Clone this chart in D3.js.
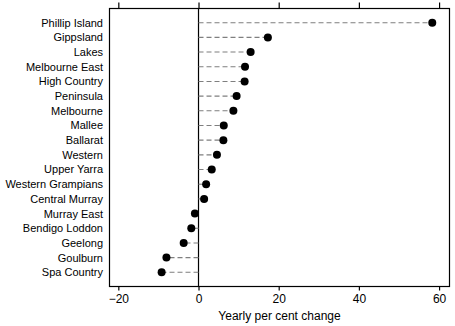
<!DOCTYPE html>
<html>
<head>
<meta charset="utf-8">
<script src="https://cdn.jsdelivr.net/npm/d3@7"></script>
<style>
  html, body { margin: 0; padding: 0; background: #fff; }
  svg { display: block; }
  text { font-family: "Liberation Sans", Arial, sans-serif; fill: #000; }
</style>
</head>
<body>
<script>
// Regions, top to bottom, and their yearly per cent change
const regions = [
  "Phillip Island", "Gippsland", "Lakes", "Melbourne East", "High Country",
  "Peninsula", "Melbourne", "Mallee", "Ballarat", "Western", "Upper Yarra",
  "Western Grampians", "Central Murray", "Murray East", "Bendigo Loddon",
  "Geelong", "Goulburn", "Spa Country"
];
const changes = [
  58.3, 17.3, 13.0, 11.6, 11.5, 9.5, 8.7, 6.3, 6.2, 4.6, 3.3,
  1.9, 1.4, -0.9, -1.8, -3.7, -8.0, -9.2
];
const xTicks = [-20, 0, 20, 40, 60];
const xTitle = "Yearly per cent change";

const W = 455, H = 326;
const box = { left: 109.5, right: 449.5, top: 8.5, bottom: 286.5 };

const svg = d3.select("body").append("svg")
  .attr("width", W).attr("height", H);

const x = d3.scaleLinear().domain([-22.2, 62.6]).range([box.left, box.right]);
const y = d3.scalePoint().domain(regions)
  .range([box.top + 14.2, box.bottom - 14.2]);

// Frame
svg.append("rect")
  .attr("x", box.left).attr("y", box.top)
  .attr("width", box.right - box.left).attr("height", box.bottom - box.top)
  .attr("fill", "none").attr("stroke", "#000").attr("stroke-width", 1.2);

// Top ticks (outward)
svg.append("g")
  .attr("transform", `translate(0,${box.top})`)
  .call(d3.axisTop(x).tickValues(xTicks).tickSize(6).tickFormat(""))
  .call(g => g.select(".domain").remove())
  .call(g => g.selectAll("line").attr("stroke", "#000").attr("stroke-width", 1.2));

// Bottom axis: outward ticks with labels
svg.append("g")
  .attr("transform", `translate(0,${box.bottom})`)
  .call(d3.axisBottom(x).tickValues(xTicks).tickSizeInner(4).tickSizeOuter(0)
    .tickPadding(4).tickFormat(d => d < 0 ? "\u2212" + Math.abs(d) : d))
  .call(g => g.select(".domain").remove())
  .call(g => g.selectAll("line").attr("stroke", "#000").attr("stroke-width", 1.2))
  .call(g => g.selectAll("text").attr("font-size", 12)
    .style("font-family", "'Liberation Sans', Arial, sans-serif"));

// Zero line
svg.append("line")
  .attr("x1", x(0)).attr("x2", x(0))
  .attr("y1", box.top).attr("y2", box.bottom)
  .attr("stroke", "#000").attr("stroke-width", 1.2);

// Category labels
svg.append("g").selectAll("text")
  .data(regions).join("text")
  .attr("x", box.left - 6.5)
  .attr("y", d => y(d))
  .attr("dy", "0.36em")
  .attr("text-anchor", "end")
  .attr("font-size", 11)
  .text(d => d);

const rows = regions.map((r, i) => ({ region: r, value: changes[i] }));

// Dashed leaders from zero to each value
svg.append("g").selectAll("line")
  .data(rows).join("line")
  .attr("x1", x(0)).attr("x2", d => x(d.value))
  .attr("y1", d => y(d.region)).attr("y2", d => y(d.region))
  .attr("stroke", "#7f7f7f").attr("stroke-width", 1.1)
  .attr("stroke-dasharray", "5,3");

// Dots
svg.append("g").selectAll("circle")
  .data(rows).join("circle")
  .attr("cx", d => x(d.value))
  .attr("cy", d => y(d.region))
  .attr("r", 4)
  .attr("fill", "#000");

// Axis title
svg.append("text")
  .attr("x", (x.range()[0] + x.range()[1]) / 2)
  .attr("y", 320)
  .attr("text-anchor", "middle")
  .attr("font-size", 12)
  .text(xTitle);
</script>
</body>
</html>
